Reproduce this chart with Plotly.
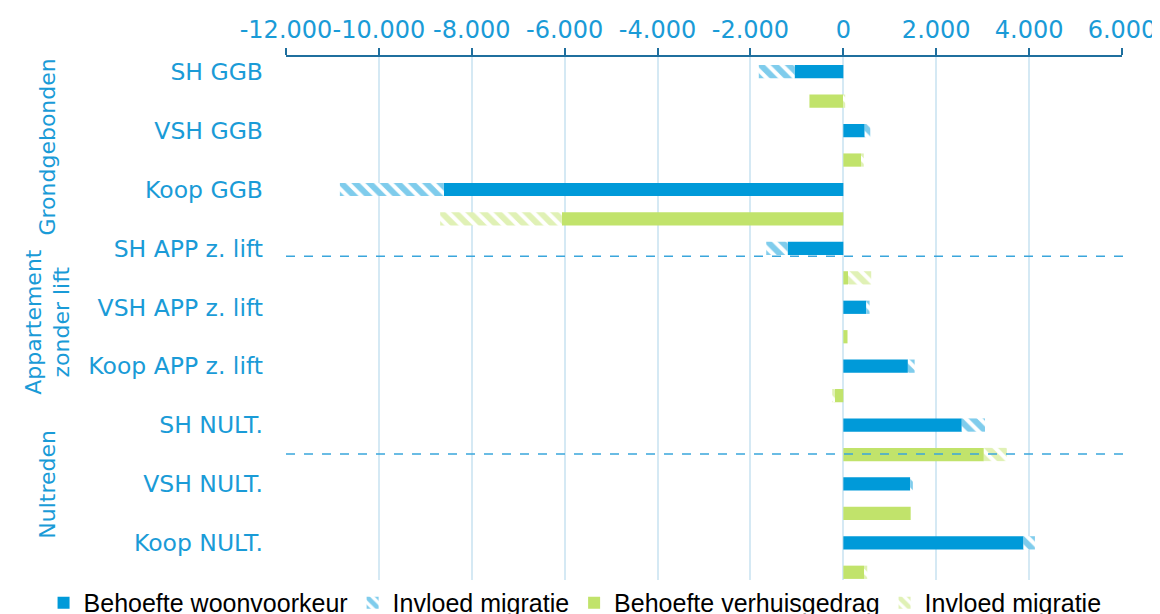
import plotly.graph_objects as go

# categorieen (blauw = woonvoorkeur, groen = verhuisgedrag)
categories = ["SH GGB", "VSH GGB", "Koop GGB",
              "SH APP z. lift", "VSH APP z. lift", "Koop APP z. lift",
              "SH NULT.", "VSH NULT.", "Koop NULT."]
woonvoorkeur = [-1050, 460, -8600, -1200, 495, 1390, 2550, 1440, 3880]
migratie_wv = [-770, 120, -2240, -460, 70, 145, 500, 57, 245]
verhuisgedrag = [-730, 380, -6060, 100, 90, -200, 3025, 1450, 445]
migratie_vg = [40, 60, -2620, 500, 0, -40, 495, 0, 70]

groups = ["Grondgebonden", "Appartement<br>zonder lift", "Nultreden"]
tickvals_x = [-12000, -10000, -8000, -6000, -4000, -2000, 0, 2000, 4000, 6000]
ticktext_x = ["-12.000", "-10.000", "-8.000", "-6.000", "-4.000", "-2.000",
              "0", "2.000", "4.000", "6.000"]

BLUE = "#009ad9"
GREEN = "#c1e36b"
TXT = "#1a9bd7"
FONT = "DejaVu Sans, Verdana, sans-serif"

rows_b = [2 * i for i in range(len(categories))]
rows_g = [2 * i + 1 for i in range(len(categories))]
bw = 0.45

fig = go.Figure()
fig.add_trace(go.Bar(y=rows_b, x=woonvoorkeur, orientation="h", width=bw,
                     name="Behoefte woonvoorkeur", marker=dict(color=BLUE, line_width=0)))
fig.add_trace(go.Bar(y=rows_b, x=migratie_wv, orientation="h", width=bw,
                     name="Invloed migratie",
                     marker=dict(color="white", line_width=0,
                                 pattern=dict(shape="\\", fgcolor=BLUE, bgcolor="white",
                                              size=10, solidity=0.6))))
fig.add_trace(go.Bar(y=rows_g, x=verhuisgedrag, orientation="h", width=bw,
                     name="Behoefte verhuisgedrag", marker=dict(color=GREEN, line_width=0)))
fig.add_trace(go.Bar(y=rows_g, x=migratie_vg, orientation="h", width=bw,
                     name="Invloed migratie ",
                     marker=dict(color="white", line_width=0,
                                 pattern=dict(shape="\\", fgcolor=GREEN, bgcolor="white",
                                              size=10, solidity=0.6))))

# scheidingslijnen tussen de groepen
for yy in [6.27, 12.98]:
    fig.add_shape(type="line", xref="paper", yref="y", x0=0, x1=1.01, y0=yy, y1=yy,
                  line=dict(color="#3aa6dc", width=1.5, dash="dash"))

# groepslabels links
for txt, xp, yc in [(groups[0], -0.285, 2.55), (groups[1], -0.285, 8.5), (groups[2], -0.285, 14.0)]:
    fig.add_annotation(text=txt, xref="paper", yref="y", x=xp, y=yc, textangle=-90,
                       showarrow=False, font=dict(family=FONT, size=22, color=TXT),
                       xanchor="center", yanchor="middle")

fig.update_layout(
    width=1160, height=614,
    barmode="relative",
    plot_bgcolor="white", paper_bgcolor="white",
    margin=dict(l=278, r=46, t=49, b=35, autoexpand=False),
    font=dict(family=FONT, color=TXT, size=21),
    showlegend=True,
    legend=dict(orientation="h", x=-0.29, xanchor="left", y=-0.03, yanchor="middle",
                font=dict(family="Liberation Sans, Arial, sans-serif", size=25, color="black"),
                traceorder="normal"),
    xaxis=dict(side="top", range=[-12000, 6000], tickvals=tickvals_x, ticktext=ticktext_x,
               tickangle=0,
               showgrid=True, gridcolor="#d5e9f4", gridwidth=2, zeroline=False,
               showline=True, linecolor="#1f6f9e", linewidth=2,
               ticks="outside", tickcolor="#1f6f9e", ticklen=7, tickwidth=2,
               tickfont=dict(family=FONT, size=24, color=TXT)),
    yaxis=dict(range=[17.5, -0.5], tickvals=rows_b, ticktext=categories,
               showgrid=False, zeroline=False, showline=False, ticks="",
               ticklabelstandoff=22, tickfont=dict(family=FONT, size=23.5, color=TXT)),
)

fig.write_html("out.html")
